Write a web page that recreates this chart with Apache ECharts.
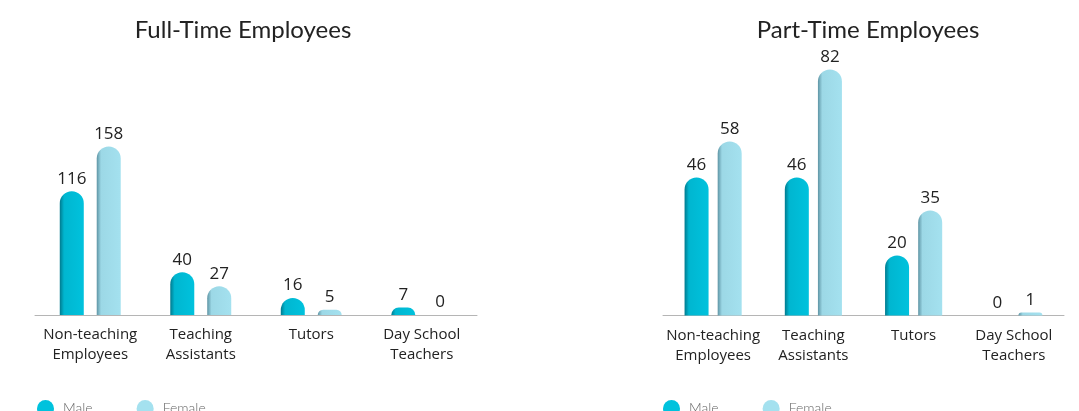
<!DOCTYPE html>
<html>
<head>
<meta charset="utf-8">
<script src="https://cdn.jsdelivr.net/npm/echarts@6/dist/echarts.min.js"></script>
<style>
  html, body { margin: 0; padding: 0; background: #fff; }
  #main { width: 1079px; height: 411px; }
</style>
</head>
<body>
<div id="main"></div>
<script>
// categories shared by both panels
const categories = ["Non-teaching\nEmployees", "Teaching\nAssistants", "Tutors", "Day School\nTeachers"];
const fullTimeMale = [116, 40, 16, 7];
const fullTimeFemale = [158, 27, 5, 0];
const partTimeMale = [46, 46, 20, 0];
const partTimeFemale = [58, 82, 35, 1];

const chart = echarts.init(document.getElementById("main"));

const maleColor = new echarts.graphic.LinearGradient(0, 0, 1, 0, [
  { offset: 0, color: "#007a8e" },
  { offset: 0.18, color: "#00b6d0" },
  { offset: 1, color: "#00c2dd" },
]);
const femaleColor = new echarts.graphic.LinearGradient(0, 0, 1, 0, [
  { offset: 0, color: "#5e94a4" },
  { offset: 0.18, color: "#9cd8e6" },
  { offset: 1, color: "#a4e1ef" },
]);

const valueLabel = {
  show: true,
  position: "top",
  distance: 4,
  color: "#222",
  fontSize: 17,
  fontFamily: "Open Sans",
};

function bar(name, data, color, xi, gap) {
  return {
    name: name,
    type: "bar",
    xAxisIndex: xi,
    yAxisIndex: xi,
    data: data,
    barWidth: 24,
    barGap: gap,
    itemStyle: { color: color, borderRadius: [12, 12, 0, 0] },
    label: valueLabel,
  };
}

function catAxis(gi) {
  return {
    type: "category",
    gridIndex: gi,
    data: categories,
    axisLine: { lineStyle: { color: "#b5b5b5", width: 1 } },
    axisTick: { show: false },
    axisLabel: {
      color: "#222",
      fontSize: 15,
      fontFamily: "Open Sans",
      lineHeight: 20,
      margin: 10,
      interval: 0,
    },
  };
}

function legendAt(left) {
  return {
    left: left,
    top: 395,
    data: [
      { name: "Male", itemStyle: { color: "#00c2dd" } },
      { name: "Female", itemStyle: { color: "#a4e1ef" } },
    ],
    icon: "circle",
    itemWidth: 17,
    itemHeight: 17,
    itemGap: 44,
    textStyle: { color: "#666", fontSize: 14, fontFamily: "Lato", fontWeight: 300, padding: [0, 0, 0, 4] },
  };
}

const titleStyle = { color: "#222", fontSize: 24, fontWeight: "normal", fontFamily: "Lato" };

const option = {
  animation: false,
  title: [
    { text: "Full-Time Employees", left: 238, top: 13, textAlign: "center", textStyle: titleStyle },
    { text: "Part-Time Employees", left: 863, top: 13, textAlign: "center", textStyle: titleStyle },
  ],
  legend: [legendAt(32), legendAt(658)],
  grid: [
    { left: 35, width: 442, top: 101.8, height: 213.2 },
    { left: 663, width: 401, top: 15.5, height: 300 },
  ],
  xAxis: [catAxis(0), catAxis(1)],
  yAxis: [
    { type: "value", gridIndex: 0, min: 0, max: 200, show: false },
    { type: "value", gridIndex: 1, min: 0, max: 100, show: false },
  ],
  series: [
    bar("Male", fullTimeMale, maleColor, 0, "54%"),
    bar("Female", fullTimeFemale, femaleColor, 0, "54%"),
    bar("Male", partTimeMale, maleColor, 1, "38%"),
    bar("Female", partTimeFemale, femaleColor, 1, "38%"),
  ],
};

chart.setOption(option);
</script>
</body>
</html>
